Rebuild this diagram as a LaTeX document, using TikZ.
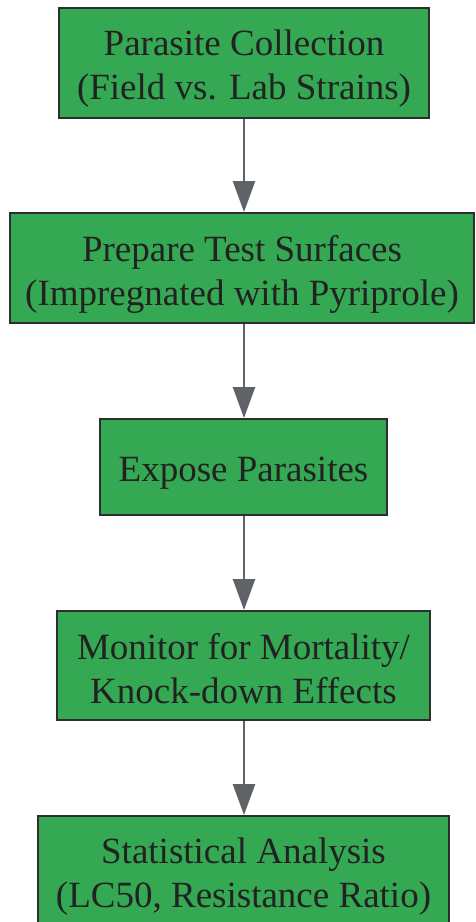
\documentclass[tikz,border=0pt]{standalone}
\usepackage{fontspec}
\setmainfont{Liberation Serif}
\usetikzlibrary{arrows.meta}
\definecolor{boxfill}{HTML}{34A853}
\definecolor{boxline}{HTML}{2E2E2E}
\definecolor{arrowc}{HTML}{5F6368}
\definecolor{textc}{HTML}{222222}
\begin{document}
\begin{tikzpicture}[x=1pt,y=-1pt,
  stepbox/.style={draw=boxline, line width=2pt, fill=boxfill, inner sep=0pt},
  steptext/.style={inner sep=0pt, text=textc, align=center, font=\fontsize{37}{44}\selectfont, yshift=-6pt},
  flow/.style={draw=arrowc, line width=2.5pt, -{Triangle[length=31pt,width=22pt]}}]
\useasboundingbox (0,0) rectangle (475,922);
\node[stepbox, minimum width=370pt, minimum height=110pt, label={[steptext]center:Parasite Collection\\(Field vs. Lab Strains)}] (a) at (244,63) {};
\node[stepbox, minimum width=464pt, minimum height=110pt, label={[steptext]center:Prepare Test Surfaces\\(Impregnated with Pyriprole)}] (b) at (242,268) {};
\node[stepbox, minimum width=287pt, minimum height=96pt, label={[steptext]center:Expose Parasites}] (c) at (243.5,467) {};
\node[stepbox, minimum width=373pt, minimum height=109pt, label={[steptext, yshift=3pt]center:Monitor for Mortality/\\Knock-down Effects}] (d) at (243.5,665.5) {};
\node[stepbox, minimum width=411pt, minimum height=110pt, label={[steptext]center:Statistical Analysis\\(LC50, Resistance Ratio)}] (e) at (243.5,871) {};
\draw[flow] (a.south -| 244,0) -- (b.north -| 244,0);
\draw[flow] (b.south -| 244,0) -- (c.north -| 244,0);
\draw[flow] (c.south -| 244,0) -- (d.north -| 244,0);
\draw[flow] (d.south -| 244,0) -- (e.north -| 244,0);
\end{tikzpicture}
\end{document}
